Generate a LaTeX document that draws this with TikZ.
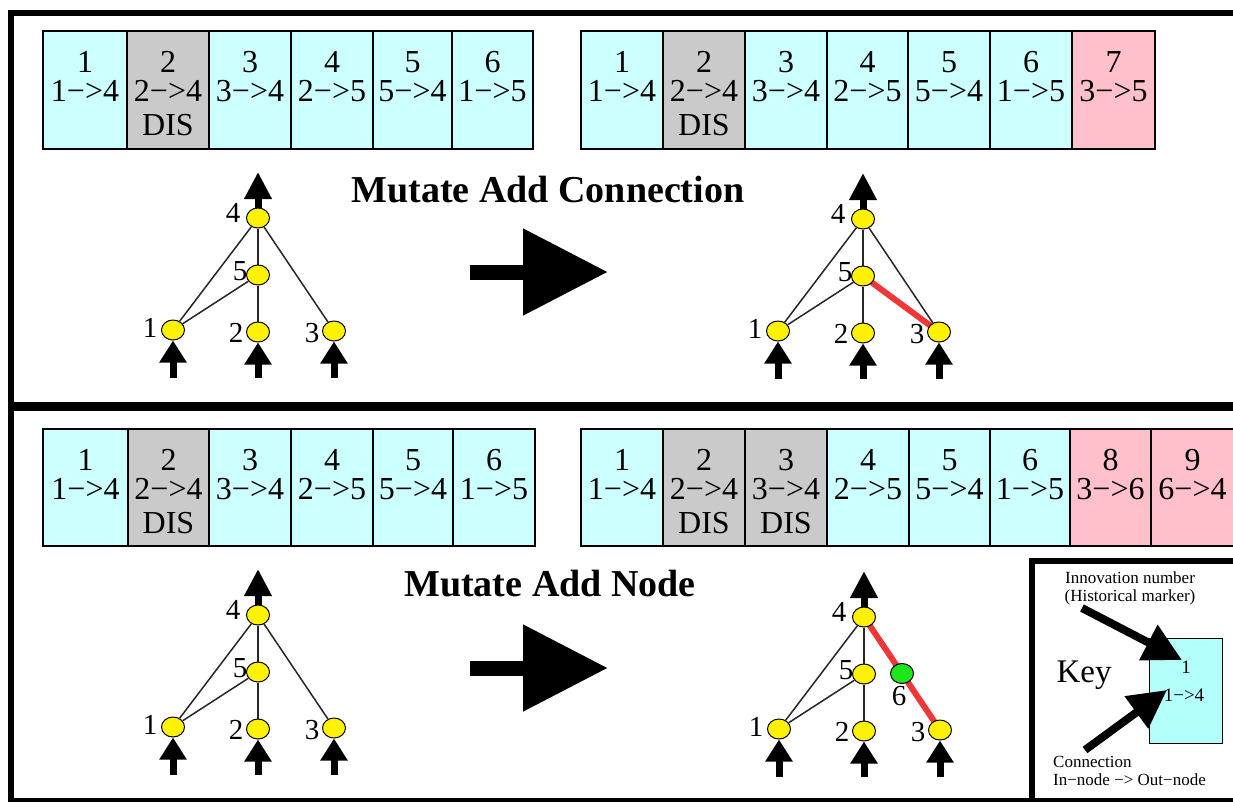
\documentclass[tikz,border=0pt]{standalone}
\usepackage{fontspec}
\setmainfont{Liberation Serif}
\usetikzlibrary{arrows.meta,shapes.geometric,calc}
\definecolor{cellcyan}{RGB}{204,255,255}
\definecolor{cellgray}{RGB}{202,202,202}
\definecolor{cellpink}{RGB}{255,192,203}
\definecolor{keycyan}{RGB}{179,255,250}
\definecolor{redc}{RGB}{240,55,55}
\definecolor{greenc}{RGB}{30,230,30}
\pgfdeclarelayer{bg}
\pgfsetlayers{bg,main}
\newcommand\gcell[8]{%
  \node[cellbox, fill=#6, anchor=north west, minimum width=#3pt-#2pt, minimum height=#5pt] (#1) at (#2,#4) {};
  \node[ctext] (#1a) at ([yshift=-31pt]#1.north) {#7};
  \node[ctext] (#1b) at ([yshift=-60pt]#1.north) {#8};
}
\newcommand\disl[1]{\node[ctext] (#1d) at ([yshift=-94pt]#1.north) {DIS};}
\newcommand\basegraph[3]{%
  \begin{scope}[shift={(#1,#2)}]
    \node[gnode] (#3n4) at (258,218) {};
    \node[gnode] (#3n5) at (258,275) {};
    \node[gnode] (#3n1) at (173,330) {};
    \node[gnode] (#3n2) at (258,332) {};
    \node[gnode] (#3n3) at (334,331) {};
    \node[glabel] (#3l4) at (233,213) {4};
    \node[glabel] (#3l5) at (240,271) {5};
    \node[glabel] (#3l1) at (150,328) {1};
    \node[glabel] (#3l2) at (236,333) {2};
    \node[glabel] (#3l3) at (312,333) {3};
    \coordinate (#3o) at (258,172);
    \coordinate (#3i1) at (173,378);
    \coordinate (#3i2) at (258,378);
    \coordinate (#3i3) at (334,378);
  \end{scope}
  \begin{pgfonlayer}{bg}
    \draw[outarrow] (#3n4.center) -- (#3o);
    \draw[inarrow] (#3i1) -- (#3n1.south);
    \draw[inarrow] (#3i2) -- (#3n2.south);
    \draw[inarrow] (#3i3) -- (#3n3.south);
    \draw[edge] (#3n4) -- (#3n1);
    \draw[edge] (#3n4) -- (#3n5);
    \draw[edge] (#3n5) -- (#3n1);
    \draw[edge] (#3n5) -- (#3n2);
  \end{pgfonlayer}
}
\begin{document}
\begin{tikzpicture}[x=1pt,y=-1pt,
  cellbox/.style={draw=black, line width=1.2pt, inner sep=0pt, outer sep=0pt},
  ctext/.style={font=\fontsize{32}{36}\selectfont, inner sep=0pt},
  gnode/.style={ellipse, draw=black, line width=1pt, fill=yellow, minimum width=23pt, minimum height=20pt, inner sep=0pt},
  glabel/.style={font=\fontsize{29}{32}\selectfont, inner sep=0pt},
  edge/.style={draw=black!85, line width=1.5pt},
  newedge/.style={draw=redc, line width=6pt},
  inarrow/.style={line width=7pt, -{Triangle[length=22pt,width=26pt]}},
  outarrow/.style={line width=7pt, -{Triangle[length=27pt,width=26pt]}},
  bigarrow/.style={line width=15pt, -{Triangle[length=85pt,width=83pt]}},
  keyarrow/.style={line width=8pt, -{Triangle[length=38pt,width=38pt]}},
  title/.style={font=\bfseries\fontsize{38}{42}\selectfont, inner sep=0pt},
  ktext/.style={font=\fontsize{17}{18}\selectfont, inner sep=0pt},
  kbtext/.style={font=\fontsize{19}{20}\selectfont, inner sep=0pt},
]
\useasboundingbox (0,0) rectangle (1233,801);
\begin{pgfonlayer}{bg}\fill[white] (0,0) rectangle (1233,801);\end{pgfonlayer}
% frame
\draw[line width=6pt] (1240,13) -- (11,13) -- (11,806);
\draw[line width=9pt] (8,406) -- (1240,406);
\draw[line width=6pt] (8,801) -- (1240,801);
% top-left genome
\gcell{ta}{43}{127}{31}{118}{cellcyan}{1}{1−>4}
\gcell{tb}{127}{209}{31}{118}{cellgray}{2}{2−>4}\disl{tb}
\gcell{tc}{209}{291}{31}{118}{cellcyan}{3}{3−>4}
\gcell{td}{291}{373}{31}{118}{cellcyan}{4}{2−>5}
\gcell{te}{373}{452}{31}{118}{cellcyan}{5}{5−>4}
\gcell{tf}{452}{533}{31}{118}{cellcyan}{6}{1−>5}
% top-right genome
\gcell{ua}{581}{663}{31}{118}{cellcyan}{1}{1−>4}
\gcell{ub}{663}{745}{31}{118}{cellgray}{2}{2−>4}\disl{ub}
\gcell{uc}{745}{827}{31}{118}{cellcyan}{3}{3−>4}
\gcell{ud}{827}{908}{31}{118}{cellcyan}{4}{2−>5}
\gcell{ue}{908}{990}{31}{118}{cellcyan}{5}{5−>4}
\gcell{uf}{990}{1072}{31}{118}{cellcyan}{6}{1−>5}
\gcell{ug}{1072}{1155}{31}{118}{cellpink}{7}{3−>5}
% bottom-left genome
\gcell{va}{43}{128}{429}{117}{cellcyan}{1}{1−>4}
\gcell{vb}{128}{209}{429}{117}{cellgray}{2}{2−>4}\disl{vb}
\gcell{vc}{209}{291}{429}{117}{cellcyan}{3}{3−>4}
\gcell{vd}{291}{373}{429}{117}{cellcyan}{4}{2−>5}
\gcell{ve}{373}{453}{429}{117}{cellcyan}{5}{5−>4}
\gcell{vf}{453}{535}{429}{117}{cellcyan}{6}{1−>5}
% bottom-right genome
\gcell{wa}{581}{663}{429}{117}{cellcyan}{1}{1−>4}
\gcell{wb}{663}{745}{429}{117}{cellgray}{2}{2−>4}\disl{wb}
\gcell{wc}{745}{827}{429}{117}{cellgray}{3}{3−>4}\disl{wc}
\gcell{wd}{827}{909}{429}{117}{cellcyan}{4}{2−>5}
\gcell{we}{909}{990}{429}{117}{cellcyan}{5}{5−>4}
\gcell{wf}{990}{1070}{429}{117}{cellcyan}{6}{1−>5}
\gcell{wg}{1070}{1151}{429}{117}{cellpink}{8}{3−>6}
\gcell{wh}{1151}{1234}{429}{117}{cellpink}{9}{6−>4}
% titles
\node[title] (t1) at (548,190) {Mutate Add Connection};
\node[title] (t2) at (550,584) {Mutate Add Node};
% big arrows
\coordinate (ba1s) at (470,272); \coordinate (ba1e) at (608,272);
\draw[bigarrow] (ba1s) -- (ba1e);
\coordinate (ba2s) at (470,668); \coordinate (ba2e) at (608,668);
\draw[bigarrow] (ba2s) -- (ba2e);
% graphs
\basegraph{0}{0}{a}
\begin{pgfonlayer}{bg}\draw[edge] (an4) -- (an3);\end{pgfonlayer}
\basegraph{605}{1}{b}
\begin{pgfonlayer}{bg}\draw[edge] (bn4) -- (bn3);\draw[newedge] (bn5.center) -- (bn3.center);\end{pgfonlayer}
\basegraph{0}{397}{c}
\begin{pgfonlayer}{bg}\draw[edge] (cn4) -- (cn3);\end{pgfonlayer}
\basegraph{606}{399}{d}
\node[gnode, fill=greenc] (dn6) at ($(dn4)!0.5!(dn3)$) {};
\node[glabel] (dl6) at ([xshift=-3pt,yshift=-23pt]dn6.center) {6};
\begin{pgfonlayer}{bg}\draw[newedge] (dn4.center) -- (dn6.center) -- (dn3.center);\end{pgfonlayer}
% key
\draw[line width=6pt] (1032,806) -- (1032,561) -- (1240,561);
\node[draw=black, line width=1.2pt, fill=keycyan, anchor=north west, minimum width=73pt, minimum height=105pt, inner sep=0pt] (kbox) at (1149,638) {};
\node[ktext] (kin) at (1130,578) {Innovation number};
\node[ktext] (khm) at (1130,597) {(Historical marker)};
\node[kbtext] (knum) at (1186,667) {1};
\node[kbtext] (kconn) at (1184,695) {1−>4};
\node[font=\fontsize{33}{36}\selectfont, inner sep=0pt] (key) at (1084,675) {Key};
\node[ktext, anchor=west] (kc) at (1053,762) {Connection};
\node[ktext, anchor=west] (kio) at (1053,780) {In−node −> Out−node};
\coordinate (ka1s) at (1082,608); \coordinate (ka1e) at (1182,660);
\coordinate (ka2s) at (1085,750); \coordinate (ka2e) at (1167,690);
\draw[keyarrow] (ka1s) -- (ka1e);
\draw[keyarrow] (ka2s) -- (ka2e);
\end{tikzpicture}
\end{document}
